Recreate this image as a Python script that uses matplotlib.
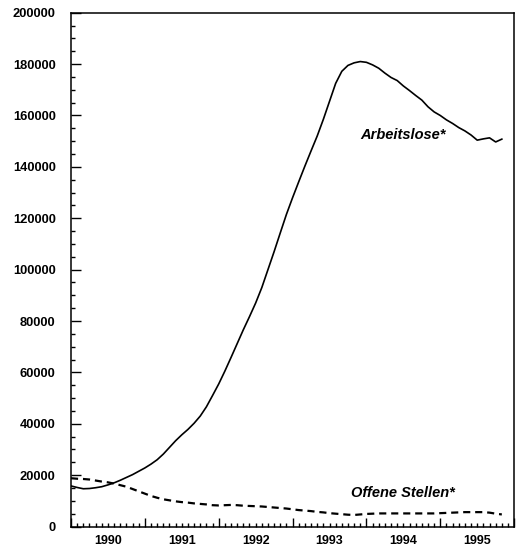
import matplotlib.pyplot as plt
import numpy as np
from matplotlib.ticker import MultipleLocator, FixedLocator, NullFormatter

# monthly figures, January 1990 onwards
start_year = 1990
arbeitslose = [
    15800, 15200, 14700, 14800, 15100, 15500, 16200, 17000, 18000, 19100, 20200, 21500,
    22800, 24300, 26000, 28200, 30800, 33400, 35700, 37800, 40200, 43000, 46600, 51000,
    55500, 60500, 65800, 71200, 76600, 81700, 87000, 93000, 100000, 107000, 114300, 121500,
    128000, 134200, 140300, 146200, 152000, 158500, 165500, 172500, 177200, 179500, 180500, 181000,
    180700, 179700, 178400, 176500, 174800, 173600, 171500, 169700, 167800, 166000, 163400, 161400,
    160000, 158300, 156900, 155300, 154000, 152400, 150400, 150900, 151300, 149700, 150800,
]
offene_stellen = [
    18800, 18600, 18500, 18300, 17900, 17500, 17200, 16700, 16100, 15500, 14600, 13700,
    12800, 11900, 11200, 10600, 10200, 9800, 9500, 9300, 9000, 8800, 8600, 8300,
    8200, 8300, 8400, 8300, 8100, 8000, 7900, 7800, 7600, 7400, 7200, 7000,
    6700, 6400, 6200, 6000, 5700, 5500, 5200, 5000, 4800, 4600, 4500, 4700,
    4900, 5000, 5100, 5100, 5100, 5100, 5100, 5100, 5100, 5100, 5100, 5100,
    5200, 5300, 5400, 5500, 5600, 5600, 5600, 5600, 5400, 5000, 4700,
]
years = [1990, 1991, 1992, 1993, 1994, 1995]

t = start_year + np.arange(len(arbeitslose)) / 12.0

plt.rcParams['font.family'] = ['Liberation Sans', 'DejaVu Sans']

fig = plt.figure(figsize=(5.16, 5.54), dpi=100)
ax = fig.add_axes([0.1376, 0.0496, 0.8588, 0.9274])

ax.plot(t, arbeitslose, color='black', lw=1.2, solid_joinstyle='round')
ax.plot(t, offene_stellen, color='black', lw=1.6, dashes=(3.2, 2.2))

ax.text(1994.5, 152300, 'Arbeitslose*', ha='center', va='center',
        fontsize=10.5, fontweight='bold', fontstyle='italic')
ax.text(1994.5, 13150, 'Offene Stellen*', ha='center', va='center',
        fontsize=10.5, fontweight='bold', fontstyle='italic')

ax.set_xlim(1990, 1996)
ax.set_ylim(0, 200000)

# y axis: labels every 20000, small marks every 5000
ax.yaxis.set_major_locator(MultipleLocator(20000))
ax.yaxis.set_minor_locator(MultipleLocator(5000))
ax.tick_params(axis='y', which='major', direction='in', length=7, width=1,
               pad=11, labelsize=9.3)
ax.tick_params(axis='y', which='minor', direction='in', length=3, width=1)

# x axis: long marks at year boundaries, short marks for months
ax.xaxis.set_major_locator(FixedLocator(range(1990, 1997)))
ax.xaxis.set_major_formatter(NullFormatter())
ax.xaxis.set_minor_locator(MultipleLocator(1 / 12))
ax.tick_params(axis='x', which='major', direction='in', length=6.5, width=1)
ax.tick_params(axis='x', which='minor', direction='in', length=3, width=1)

# year names sit in the middle of each year
sec = ax.secondary_xaxis('bottom')
sec.set_xticks([y + 0.5 for y in years])
sec.set_xticklabels([str(y) for y in years])
sec.tick_params(length=0, pad=6, labelsize=9)
sec.spines['bottom'].set_visible(False)

for lbl in ax.get_yticklabels() + sec.get_xticklabels():
    lbl.set_fontweight('bold')

for s in ax.spines.values():
    s.set_linewidth(1.1)

fig.savefig('out.png', dpi=100)
